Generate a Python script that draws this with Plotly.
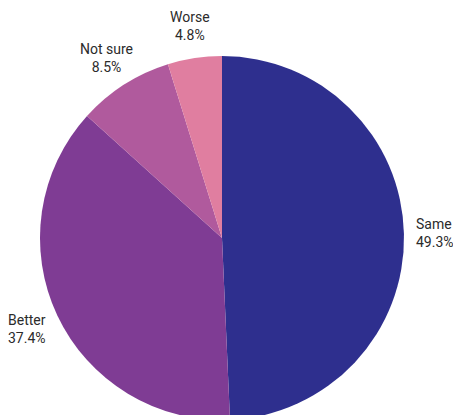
import math
import plotly.graph_objects as go

labels = ["Same", "Better", "Not sure", "Worse"]
values = [49.3, 37.4, 8.5, 4.8]
colors = ["#2E2F8E", "#7F3C94", "#B05A9D", "#E07EA0"]

W, H = 453, 425
CX, CY, R = 222, 238, 182   # pie centre / radius in pixels
LABEL_GAP = 32
SIDE_GAP = 10

fig = go.Figure(go.Pie(
    labels=labels,
    values=values,
    sort=False,
    direction="clockwise",
    rotation=0,
    marker=dict(colors=colors, line=dict(width=0)),
    textinfo="none",
    hoverinfo="label+percent",
    domain=dict(x=[(CX - R) / W, (CX + R) / W],
                y=[(H - CY - R) / H, (H - CY + R) / H]),
    showlegend=False,
))

total = sum(values)
cum = 0.0
annotations = []
for lab, v in zip(labels, values):
    mid = (cum + v / 2) / total * 2 * math.pi
    cum += v
    dx, dy = math.sin(mid), -math.cos(mid)
    py = CY + (R + LABEL_GAP) * dy
    if abs(dx) > 0.7:
        px = CX + (R + SIDE_GAP) * dx
        xanchor = "left" if dx > 0 else "right"
        align = "left"
    else:
        px = CX + (R + LABEL_GAP) * dx
        xanchor = "center"
        align = "center"
    annotations.append(dict(
        x=px / W, y=1 - py / H, xref="paper", yref="paper",
        text=f"{lab}<br>{v:.1f}%", showarrow=False,
        xanchor=xanchor, yanchor="middle", align=align,
        font=dict(family="Roboto", size=14, color="#2b2b2b"),
    ))

fig.update_layout(
    width=W, height=H,
    margin=dict(l=0, r=0, t=0, b=0),
    paper_bgcolor="white",
    annotations=annotations,
)
fig.write_html(
    "out.html",
    config={"displayModeBar": False},
    post_script=(
        "document.body.style.margin='0';"
        "document.body.style.overflow='hidden';"
        "document.documentElement.style.overflow='hidden';"
    ),
)
